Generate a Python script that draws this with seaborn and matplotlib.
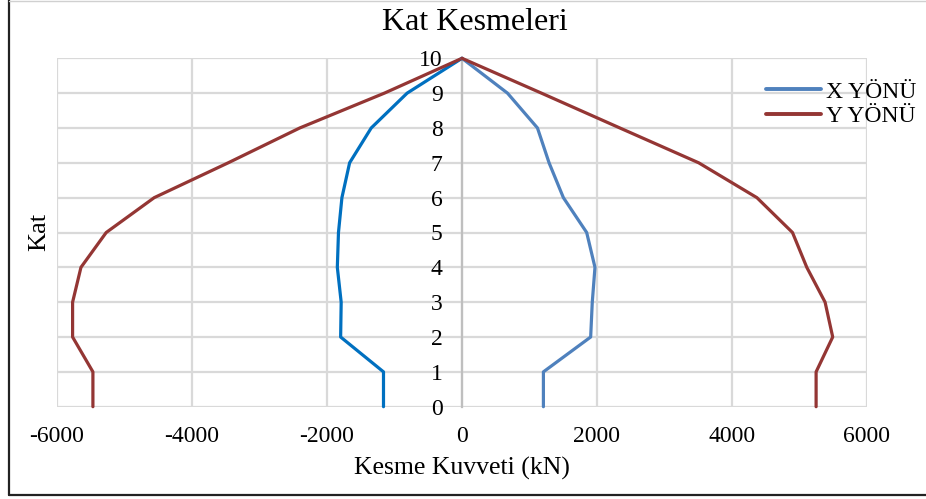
import matplotlib
matplotlib.use("Agg")
import matplotlib.pyplot as plt
from matplotlib.lines import Line2D
import seaborn as sns

# Storey shear forces (kN) per floor, both directions, both signs
kat = [0, 1, 2, 3, 4, 5, 6, 7, 8, 9, 10]
x_yonu_pos = [1206, 1206, 1906, 1930, 1970, 1847, 1502, 1290, 1118, 674, 0]
x_yonu_neg = [-1163, -1163, -1798, -1790, -1847, -1830, -1779, -1665, -1345, -813, 0]
y_yonu_pos = [5246, 5246, 5492, 5379, 5108, 4896, 4369, 3507, 2339, 1177, 0]
y_yonu_neg = [-5468, -5468, -5769, -5769, -5645, -5271, -4560, -3464, -2404, -1150, 0]
x_ticks = [-6000, -4000, -2000, 0, 2000, 4000, 6000]
y_ticks = list(range(0, 11))

sns.set_theme(style="white")
plt.rcParams["font.family"] = ["Liberation Serif", "DejaVu Serif"]
plt.rcParams["text.color"] = "black"

W, H = 926, 499
fig = plt.figure(figsize=(W / 100, H / 100), dpi=100)
ax = fig.add_axes([57 / W, 1 - 406.7 / H, (867 - 57) / W, (406.7 - 58.3) / H])

c_xpos = "#4F81BD"
c_xneg = "#0070C0"
c_y = "#943634"
lw = 2.3

sns.lineplot(x=x_yonu_neg, y=kat, orient="y", sort=False, estimator=None,
             color=c_xneg, linewidth=lw, ax=ax, legend=False)
sns.lineplot(x=y_yonu_neg, y=kat, orient="y", sort=False, estimator=None,
             color=c_y, linewidth=lw, ax=ax, legend=False)
sns.lineplot(x=x_yonu_pos, y=kat, orient="y", sort=False, estimator=None,
             color=c_xpos, linewidth=lw, ax=ax, legend=False)
sns.lineplot(x=y_yonu_pos, y=kat, orient="y", sort=False, estimator=None,
             color=c_y, linewidth=lw, ax=ax, legend=False)
for ln in ax.get_lines():
    ln.set_clip_on(False)
    ln.set_zorder(5)

for s in ["top", "right", "bottom"]:
    ax.spines[s].set_visible(False)
ax.spines["left"].set_position(("data", 0))
ax.spines["left"].set_color("#BFBFBF")
ax.spines["left"].set_linewidth(1.6)
ax.spines["left"].set_zorder(3)

ax.set_xlim(-6000, 6000)
ax.set_ylim(0, 10)
ax.set_xticks(x_ticks)
ax.set_yticks(y_ticks)
ax.set_xticklabels([str(v) for v in x_ticks])
ax.set_yticklabels([str(v) for v in y_ticks])
ax.tick_params(axis="both", length=0, colors="black", labelsize=17)
ax.tick_params(axis="y", pad=14)
ax.tick_params(axis="x", pad=14)
ax.grid(True, color="#D9D9D9", linewidth=1.6)
ax.set_axisbelow(True)

ax.set_xlabel("")
ax.set_ylabel("")
fig.text(462 / W, 1 - 468 / H, "Kesme Kuvveti (kN)", ha="center", va="center",
         fontsize=18.5, color="black")
fig.text(39 / W, 1 - 232 / H, "Kat", ha="center", va="center", rotation=90,
         fontsize=19, color="black")
fig.text(475 / W, 1 - 23 / H, "Kat Kesmeleri", ha="center", va="center",
         fontsize=23, color="black")

handles = [Line2D([], [], color=c_xpos, linewidth=lw + 0.5),
           Line2D([], [], color=c_y, linewidth=lw + 0.5)]
leg = fig.legend(handles, ["X YÖNÜ", "Y YÖNÜ"], loc="upper left",
                 bbox_to_anchor=(766 / W, 1 - 81 / H), frameon=False, fontsize=17,
                 handlelength=2.35, handletextpad=0.2, borderpad=0, borderaxespad=0,
                 labelspacing=0.12)
for t in leg.get_texts():
    t.set_color("black")

# outer frame of the chart
fig.add_artist(Line2D([9 / W, 9 / W], [1 - 495 / H, 1], color="#222222", linewidth=1.6,
                      transform=fig.transFigure))
fig.add_artist(Line2D([9 / W, 1], [1 - 495 / H, 1 - 495 / H], color="#222222", linewidth=1.6,
                      transform=fig.transFigure))
fig.add_artist(Line2D([9 / W, 1], [1 - 0.5 / H, 1 - 0.5 / H], color="#D0D0D0", linewidth=1.0,
                      transform=fig.transFigure))

fig.savefig("out.png", dpi=100)
